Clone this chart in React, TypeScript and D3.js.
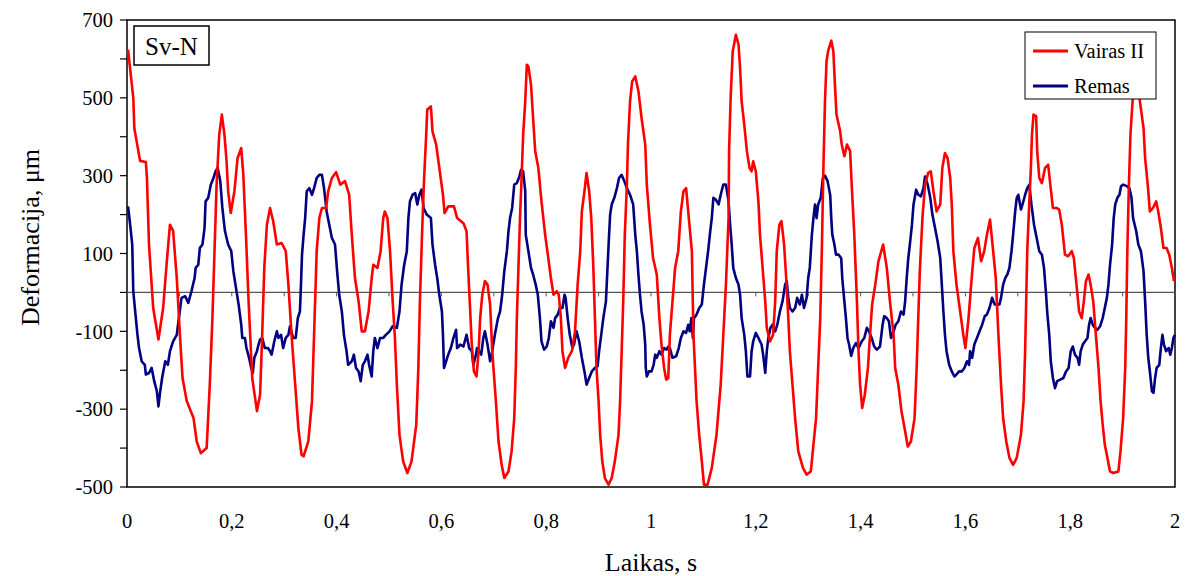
import React from "react";
import * as d3 from "d3";

// Time axis ticks and labels
const xTickValues = [0, 0.2, 0.4, 0.6, 0.8, 1, 1.2, 1.4, 1.6, 1.8, 2];
const yLabelValues = [-500, -300, -100, 100, 300, 500, 700];
const seriesNames = ["Vairas II", "Remas"];
const seriesColors = ["#FF0000", "#000080"];

// Vairas II: [time s, deformation µm]
const vairasII: [number, number][] = [
  [0.002,624],[0.012,500],[0.014,422],[0.025,338],[0.036,335],[0.038,294],[0.042,123],[0.05,-40],[0.06,-121],[0.069,-40],
  [0.076,80],[0.082,174],[0.088,158],[0.095,37],[0.101,-109],[0.106,-220],[0.114,-279],[0.127,-323],[0.133,-383],[0.141,-413],
  [0.152,-400],[0.158,-237],[0.163,-66],[0.167,106],[0.171,277],[0.176,405],[0.181,457],[0.186,405],[0.19,337],[0.193,260],
  [0.198,204],[0.205,260],[0.211,345],[0.218,371],[0.222,302],[0.227,148],[0.232,-22],[0.239,-220],[0.248,-305],[0.254,-263],
  [0.258,-109],[0.262,63],[0.267,174],[0.273,217],[0.279,183],[0.286,123],[0.295,127],[0.303,106],[0.308,20],[0.314,-109],
  [0.321,-237],[0.327,-348],[0.333,-417],[0.337,-421],[0.346,-383],[0.353,-280],[0.356,-151],[0.359,-23],[0.362,106],[0.367,191],
  [0.372,217],[0.38,217],[0.384,260],[0.391,294],[0.399,309],[0.407,277],[0.416,286],[0.424,251],[0.429,148],[0.435,37],
  [0.442,-23],[0.448,-100],[0.454,-100],[0.461,-49],[0.467,37],[0.47,71],[0.478,63],[0.484,106],[0.489,191],[0.492,208],
  [0.497,191],[0.502,106],[0.507,-23],[0.511,-109],[0.515,-237],[0.52,-366],[0.527,-434],[0.535,-464],[0.543,-434],[0.552,-340],
  [0.556,-194],[0.559,-23],[0.563,148],[0.567,294],[0.571,405],[0.573,470],[0.58,478],[0.583,414],[0.59,380],[0.596,320],
  [0.603,251],[0.606,204],[0.613,221],[0.624,221],[0.63,191],[0.642,178],[0.648,157],[0.651,63],[0.655,-49],[0.658,-134],
  [0.662,-203],[0.667,-216],[0.671,-151],[0.674,-66],[0.678,-6],[0.683,29],[0.688,20],[0.693,-31],[0.697,-151],[0.704,-280],
  [0.709,-383],[0.715,-443],[0.72,-477],[0.728,-460],[0.734,-408],[0.739,-323],[0.742,-194],[0.744,-66],[0.747,63],[0.75,191],
  [0.753,294],[0.756,405],[0.76,491],[0.763,585],[0.766,581],[0.771,534],[0.775,448],[0.779,363],[0.785,320],[0.791,234],
  [0.798,148],[0.804,88],[0.809,37],[0.814,-6],[0.82,3],[0.824,-6],[0.828,-66],[0.831,-151],[0.836,-194],[0.842,-168],
  [0.849,-151],[0.855,-100],[0.86,20],[0.865,106],[0.868,208],[0.873,260],[0.877,307],[0.882,260],[0.886,191],[0.89,63],
  [0.893,-66],[0.896,-194],[0.9,-280],[0.903,-366],[0.907,-434],[0.912,-477],[0.919,-494],[0.925,-477],[0.931,-434],[0.938,-366],
  [0.941,-280],[0.944,-151],[0.947,-23],[0.95,148],[0.954,277],[0.956,380],[0.96,491],[0.964,542],[0.97,555],[0.976,517],
  [0.982,448],[0.989,380],[0.992,277],[0.998,174],[1.004,88],[1.011,46],[1.016,-66],[1.02,-134],[1.025,-194],[1.029,-224],
  [1.033,-220],[1.036,-109],[1.041,-23],[1.046,63],[1.052,106],[1.057,208],[1.062,260],[1.067,268],[1.071,208],[1.078,106],
  [1.081,-109],[1.087,-280],[1.092,-366],[1.097,-434],[1.101,-494],[1.108,-494],[1.116,-451],[1.125,-366],[1.133,-237],[1.138,-109],
  [1.143,20],[1.148,191],[1.149,363],[1.152,500],[1.156,620],[1.162,662],[1.167,637],[1.17,577],[1.173,491],[1.178,431],
  [1.183,363],[1.188,320],[1.192,311],[1.195,337],[1.2,311],[1.205,234],[1.208,148],[1.213,63],[1.218,-23],[1.221,-91],
  [1.227,-126],[1.233,-109],[1.237,-23],[1.24,106],[1.245,174],[1.249,183],[1.254,123],[1.258,37],[1.262,-66],[1.265,-151],
  [1.27,-237],[1.275,-323],[1.281,-408],[1.29,-451],[1.297,-468],[1.305,-460],[1.31,-391],[1.315,-323],[1.319,-194],[1.323,-66],
  [1.326,106],[1.329,320],[1.332,491],[1.335,594],[1.338,620],[1.344,647],[1.348,620],[1.351,534],[1.354,457],[1.361,414],
  [1.364,380],[1.369,350],[1.374,380],[1.38,363],[1.383,277],[1.388,148],[1.393,-23],[1.396,-151],[1.399,-237],[1.403,-297],
  [1.408,-263],[1.414,-194],[1.418,-109],[1.422,-31],[1.428,20],[1.434,80],[1.443,123],[1.45,63],[1.456,-23],[1.463,-109],
  [1.466,-194],[1.472,-237],[1.478,-305],[1.485,-357],[1.49,-396],[1.496,-383],[1.503,-323],[1.507,-194],[1.51,-66],[1.513,54],
  [1.518,191],[1.523,277],[1.529,307],[1.534,311],[1.539,260],[1.545,208],[1.552,226],[1.556,320],[1.561,358],[1.566,345],
  [1.571,294],[1.574,226],[1.577,106],[1.583,20],[1.59,-49],[1.596,-109],[1.6,-143],[1.606,-66],[1.612,37],[1.617,114],
  [1.624,140],[1.63,80],[1.636,106],[1.641,148],[1.647,187],[1.653,106],[1.658,37],[1.663,-109],[1.668,-237],[1.672,-323],
  [1.678,-383],[1.684,-425],[1.691,-443],[1.698,-425],[1.706,-366],[1.711,-280],[1.714,-151],[1.716,-23],[1.718,106],[1.722,234],
  [1.725,320],[1.727,405],[1.73,457],[1.735,453],[1.737,363],[1.741,294],[1.746,281],[1.752,320],[1.758,328],[1.762,277],
  [1.767,217],[1.774,217],[1.779,213],[1.784,174],[1.79,97],[1.796,93],[1.803,106],[1.807,88],[1.812,20],[1.817,-49],
  [1.822,-66],[1.826,-23],[1.83,29],[1.835,46],[1.839,20],[1.844,-23],[1.849,-109],[1.854,-194],[1.858,-280],[1.862,-340],
  [1.866,-391],[1.871,-425],[1.876,-460],[1.882,-464],[1.892,-460],[1.896,-408],[1.901,-323],[1.905,-194],[1.907,-66],[1.909,106],
  [1.912,277],[1.915,405],[1.919,491],[1.924,560],[1.929,540],[1.933,491],[1.94,422],[1.943,345],[1.948,277],[1.952,208],
  [1.958,217],[1.964,234],[1.968,208],[1.973,166],[1.978,114],[1.984,114],[1.989,97],[1.994,63],[1.998,29]
];

// Remas: [time s, deformation µm]
const remas: [number, number][] = [
  [0.002,221],[0.006,174],[0.01,123],[0.012,3],[0.015,-40],[0.02,-109],[0.023,-143],[0.028,-177],[0.034,-186],[0.036,-211],
  [0.042,-207],[0.047,-194],[0.052,-228],[0.057,-254],[0.06,-293],[0.063,-258],[0.067,-220],[0.073,-177],[0.078,-186],[0.082,-151],
  [0.088,-126],[0.095,-109],[0.099,-66],[0.104,-14],[0.111,-10],[0.117,-27],[0.123,3],[0.129,37],[0.131,63],[0.136,71],
  [0.139,114],[0.144,123],[0.148,166],[0.15,234],[0.155,243],[0.16,277],[0.165,294],[0.169,311],[0.173,320],[0.178,286],
  [0.182,217],[0.187,157],[0.193,123],[0.199,106],[0.203,54],[0.207,20],[0.213,-31],[0.218,-83],[0.22,-117],[0.225,-117],
  [0.228,-143],[0.233,-168],[0.237,-194],[0.24,-207],[0.243,-168],[0.248,-151],[0.251,-134],[0.254,-121],[0.258,-117],[0.263,-143],
  [0.269,-143],[0.273,-151],[0.276,-160],[0.281,-126],[0.286,-100],[0.289,-117],[0.294,-109],[0.298,-143],[0.303,-117],[0.308,-109],
  [0.311,-87],[0.317,-117],[0.322,-117],[0.326,-66],[0.33,-49],[0.332,20],[0.334,97],[0.337,148],[0.34,191],[0.343,260],
  [0.348,268],[0.353,251],[0.357,268],[0.362,294],[0.367,302],[0.372,302],[0.376,268],[0.381,208],[0.386,174],[0.391,140],
  [0.397,123],[0.401,54],[0.405,-6],[0.41,-49],[0.414,-109],[0.419,-151],[0.422,-186],[0.429,-177],[0.433,-160],[0.437,-194],
  [0.442,-203],[0.446,-228],[0.45,-186],[0.454,-177],[0.459,-160],[0.462,-186],[0.467,-216],[0.47,-151],[0.473,-117],[0.478,-143],
  [0.483,-117],[0.489,-117],[0.494,-109],[0.501,-100],[0.507,-87],[0.515,-91],[0.52,-49],[0.524,20],[0.529,71],[0.534,106],
  [0.537,191],[0.54,234],[0.545,251],[0.55,255],[0.554,226],[0.558,251],[0.562,264],[0.566,217],[0.572,200],[0.58,191],
  [0.583,123],[0.588,71],[0.592,37],[0.596,-6],[0.601,-49],[0.603,-109],[0.605,-194],[0.609,-177],[0.613,-160],[0.618,-143],
  [0.623,-117],[0.628,-96],[0.63,-143],[0.636,-134],[0.642,-139],[0.648,-109],[0.653,-143],[0.658,-151],[0.661,-186],[0.666,-160],
  [0.668,-143],[0.672,-151],[0.676,-160],[0.68,-117],[0.683,-100],[0.688,-134],[0.693,-177],[0.697,-151],[0.702,-109],[0.708,-66],
  [0.712,-49],[0.716,-6],[0.72,54],[0.725,106],[0.728,157],[0.731,191],[0.735,217],[0.739,277],[0.744,281],[0.748,294],
  [0.752,315],[0.756,311],[0.76,260],[0.761,148],[0.766,106],[0.771,63],[0.775,46],[0.78,20],[0.784,-6],[0.788,-66],
  [0.791,-126],[0.796,-147],[0.801,-139],[0.805,-117],[0.809,-74],[0.814,-91],[0.817,-66],[0.822,-57],[0.826,-40],[0.831,-40],
  [0.835,-6],[0.837,-14],[0.841,-66],[0.845,-109],[0.85,-143],[0.853,-134],[0.858,-100],[0.863,-126],[0.868,-168],[0.873,-203],
  [0.877,-237],[0.882,-220],[0.887,-203],[0.893,-194],[0.898,-190],[0.901,-151],[0.905,-109],[0.909,-66],[0.914,-23],[0.917,63],
  [0.92,148],[0.922,200],[0.925,226],[0.93,243],[0.935,268],[0.939,294],[0.944,302],[0.949,286],[0.954,268],[0.96,251],
  [0.966,226],[0.97,148],[0.973,106],[0.976,46],[0.979,-6],[0.982,-49],[0.986,-83],[0.989,-134],[0.99,-194],[0.992,-216],
  [0.996,-203],[1.001,-203],[1.005,-186],[1.008,-160],[1.011,-168],[1.016,-151],[1.02,-160],[1.025,-143],[1.03,-147],[1.033,-139],
  [1.036,-143],[1.041,-168],[1.048,-164],[1.053,-143],[1.057,-117],[1.062,-100],[1.067,-104],[1.071,-83],[1.074,-100],[1.077,-66],
  [1.08,-117],[1.082,-66],[1.087,-57],[1.092,-40],[1.097,-31],[1.101,20],[1.105,63],[1.109,106],[1.113,157],[1.116,191],
  [1.119,243],[1.124,238],[1.129,226],[1.133,251],[1.138,277],[1.143,277],[1.148,234],[1.151,174],[1.154,123],[1.157,63],
  [1.162,37],[1.167,20],[1.17,-6],[1.173,-66],[1.178,-109],[1.181,-151],[1.184,-216],[1.189,-216],[1.192,-151],[1.195,-126],
  [1.2,-104],[1.205,-117],[1.211,-134],[1.214,-160],[1.218,-207],[1.221,-151],[1.224,-117],[1.228,-91],[1.232,-83],[1.237,-100],
  [1.241,-83],[1.246,-49],[1.251,-23],[1.256,20],[1.259,29],[1.262,-14],[1.265,-40],[1.27,-49],[1.275,-40],[1.279,-14],
  [1.284,-31],[1.288,-6],[1.292,-40],[1.297,-14],[1.3,37],[1.303,63],[1.307,148],[1.31,191],[1.313,226],[1.316,191],
  [1.319,226],[1.324,243],[1.328,294],[1.332,300],[1.337,286],[1.342,250],[1.344,191],[1.346,148],[1.35,123],[1.353,97],
  [1.358,97],[1.363,88],[1.365,37],[1.369,-23],[1.372,-66],[1.375,-117],[1.378,-134],[1.382,-163],[1.386,-143],[1.391,-130],
  [1.396,-143],[1.402,-126],[1.407,-117],[1.412,-91],[1.416,-100],[1.421,-117],[1.426,-139],[1.431,-147],[1.437,-139],[1.442,-83],
  [1.445,-61],[1.45,-66],[1.454,-74],[1.458,-117],[1.463,-100],[1.467,-83],[1.472,-74],[1.477,-49],[1.482,-57],[1.485,-23],
  [1.488,37],[1.491,88],[1.494,123],[1.498,174],[1.501,226],[1.506,264],[1.51,251],[1.515,247],[1.52,268],[1.523,298],
  [1.528,277],[1.533,243],[1.537,200],[1.542,166],[1.547,131],[1.552,88],[1.555,20],[1.558,-49],[1.561,-109],[1.564,-151],
  [1.569,-186],[1.574,-203],[1.579,-216],[1.583,-211],[1.588,-203],[1.593,-203],[1.598,-194],[1.603,-177],[1.607,-186],[1.609,-151],
  [1.613,-168],[1.617,-134],[1.622,-117],[1.627,-100],[1.632,-83],[1.637,-61],[1.641,-57],[1.646,-40],[1.651,-14],[1.656,-31],
  [1.66,-31],[1.665,-31],[1.668,-14],[1.672,20],[1.676,37],[1.68,46],[1.684,63],[1.688,106],[1.691,148],[1.695,208],
  [1.698,243],[1.701,251],[1.706,213],[1.709,226],[1.714,251],[1.718,268],[1.722,277],[1.726,226],[1.731,174],[1.736,140],
  [1.741,106],[1.746,97],[1.75,63],[1.754,-6],[1.756,-49],[1.76,-109],[1.763,-177],[1.767,-220],[1.771,-246],[1.775,-228],
  [1.781,-224],[1.787,-220],[1.792,-203],[1.797,-194],[1.801,-151],[1.805,-139],[1.809,-160],[1.814,-168],[1.817,-186],[1.82,-151],
  [1.824,-134],[1.828,-126],[1.833,-117],[1.836,-83],[1.839,-66],[1.843,-83],[1.847,-91],[1.852,-96],[1.857,-87],[1.862,-66],
  [1.866,-40],[1.87,-14],[1.873,20],[1.876,71],[1.88,123],[1.883,191],[1.886,226],[1.89,243],[1.894,251],[1.897,273],
  [1.901,277],[1.908,273],[1.913,268],[1.917,243],[1.92,191],[1.926,157],[1.93,123],[1.935,106],[1.94,54],[1.943,-23],
  [1.946,-109],[1.949,-168],[1.952,-203],[1.956,-254],[1.959,-258],[1.962,-220],[1.965,-194],[1.97,-186],[1.973,-143],[1.976,-109],
  [1.979,-134],[1.983,-151],[1.988,-143],[1.991,-160],[1.994,-143],[1.997,-117],[2.0,-109]
];

const W = 1192;
const H = 576;
const M = { left: 127, right: 1175, top: 20, bottom: 487 };
const FONT = "Liberation Serif, Times New Roman, serif";
const tStyle = { fontFamily: FONT };

export default function App() {
  const x = d3.scaleLinear().domain([0, 2]).range([M.left, M.right]);
  const y = d3.scaleLinear().domain([-500, 700]).range([M.bottom, M.top]);
  const line = d3
    .line<[number, number]>()
    .x((d) => x(d[0]))
    .y((d) => y(d[1]));
  const yTicks = d3.range(-500, 701, 100);
  const xMinor = d3.range(0, 2.0001, 0.1);
  const fmtX = (v: number) => String(+v.toFixed(1)).replace(".", ",");
  const series = [vairasII, remas];

  return (
    <svg
      width={W}
      height={H}
      style={{ position: "fixed", left: 0, top: 0, background: "#fff" }}
    >
      <rect x={0} y={0} width={W} height={H} fill="#fff" />
      {/* frame */}
      <rect
        x={M.left}
        y={M.top}
        width={M.right - M.left}
        height={M.bottom - M.top}
        fill="none"
        stroke="#000"
        strokeWidth={1.5}
      />
      {/* zero line with minor ticks */}
      <line x1={M.left} x2={M.right} y1={y(0)} y2={y(0)} stroke="#555" strokeWidth={1.3} />
      {xMinor.map((t, i) => (
        <line key={"xm" + i} x1={x(t)} x2={x(t)} y1={y(0)} y2={y(0) + 4} stroke="#555" strokeWidth={1} />
      ))}
      {/* y ticks */}
      {yTicks.map((v) => (
        <line key={"yt" + v} x1={M.left - 7} x2={M.left} y1={y(v)} y2={y(v)} stroke="#000" strokeWidth={1.2} />
      ))}
      {yLabelValues.map((v) => (
        <text key={"yl" + v} style={tStyle} x={M.left - 14} y={y(v)} dy="0.35em" textAnchor="end" fontSize={20.5}>
          {v}
        </text>
      ))}
      {xTickValues.map((v) => (
        <text key={"xl" + v} style={tStyle} x={x(v)} y={521} dy="0.35em" textAnchor="middle" fontSize={20.5}>
          {fmtX(v)}
        </text>
      ))}
      {/* axis titles */}
      <text
        style={tStyle}
        transform={`translate(30,${(M.top + M.bottom) / 2 - 16}) rotate(-90)`}
        textAnchor="middle"
        dy="0.35em"
        fontSize={26}
      >
        Deformacija, μm
      </text>
      <text style={tStyle} x={(M.left + M.right) / 2} y={562} textAnchor="middle" dy="0.35em" fontSize={26}>
        Laikas, s
      </text>
      {/* series: Remas below, Vairas II above */}
      <path d={line(series[1]) || ""} fill="none" stroke={seriesColors[1]} strokeWidth={2.6} strokeLinejoin="round" />
      <path d={line(series[0]) || ""} fill="none" stroke={seriesColors[0]} strokeWidth={2.6} strokeLinejoin="round" />
      {/* Sv-N label */}
      <rect x={134} y={26} width={75} height={39} fill="#fff" stroke="#000" strokeWidth={1.5} />
      <text style={tStyle} x={171.5} y={46} textAnchor="middle" dy="0.35em" fontSize={25}>
        Sv-N
      </text>
      {/* legend */}
      <rect x={1025} y={32} width={131} height={67} fill="#fff" stroke="#000" strokeWidth={1} />
      {seriesNames.map((name, i) => (
        <g key={name}>
          <line x1={1033} x2={1068} y1={51 + i * 35} y2={51 + i * 35} stroke={seriesColors[i]} strokeWidth={3} />
          <text style={tStyle} x={1074} y={51 + i * 35} dy="0.35em" fontSize={20.5}>
            {name}
          </text>
        </g>
      ))}
    </svg>
  );
}
